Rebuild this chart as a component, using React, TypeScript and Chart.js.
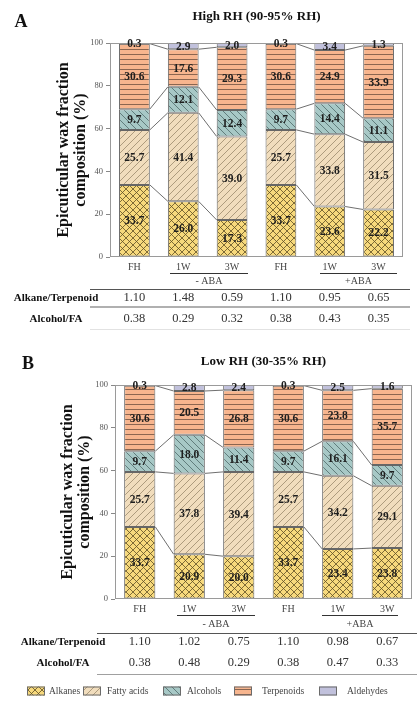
import React, { useEffect, useRef } from 'react';
import { Chart, registerables } from 'chart.js';
Chart.register(...registerables);

const categories = ['FH', '1W', '3W', 'FH', '1W', '3W'];
const components = ['Alkanes', 'Fatty acids', 'Alcohols', 'Terpenoids', 'Aldehydes'];

const highAlkanes = [33.7, 26.0, 17.3, 33.7, 23.6, 22.2];
const highFatty = [25.7, 41.4, 39.0, 25.7, 33.8, 31.5];
const highAlcohols = [9.7, 12.1, 12.4, 9.7, 14.4, 11.1];
const highTerpenoids = [30.6, 17.6, 29.3, 30.6, 24.9, 33.9];
const highAldehydes = [0.3, 2.9, 2.0, 0.3, 3.4, 1.3];

const lowAlkanes = [33.7, 20.9, 20.0, 33.7, 23.4, 23.8];
const lowFatty = [25.7, 37.8, 39.4, 25.7, 34.2, 29.1];
const lowAlcohols = [9.7, 18.0, 11.4, 9.7, 16.1, 9.7];
const lowTerpenoids = [30.6, 20.5, 26.8, 30.6, 23.8, 35.7];
const lowAldehydes = [0.3, 2.8, 2.4, 0.3, 2.5, 1.6];

const highAlkTerp = ['1.10', '1.48', '0.59', '1.10', '0.95', '0.65'];
const highAlcFA = ['0.38', '0.29', '0.32', '0.38', '0.43', '0.35'];
const lowAlkTerp = ['1.10', '1.02', '0.75', '1.10', '0.98', '0.67'];
const lowAlcFA = ['0.38', '0.48', '0.29', '0.38', '0.47', '0.33'];

const groupLabels = ['- ABA', '+ABA'];
const rowLabels = ['Alkane/Terpenoid', 'Alcohol/FA'];
const yTitle = ['Epicuticular wax fraction', 'composition (%)'];
const yTicks = [0, 20, 40, 60, 80, 100];

const SERIF = '"Liberation Serif", "DejaVu Serif", serif';

type PatKind = 'cross' | 'fwd' | 'back' | 'horiz' | 'none';
const fills = ['#f7d97c', '#f1ddbd', '#a7c8c6', '#f7b58e', '#c1c1dc'];
const patKinds: PatKind[] = ['cross', 'fwd', 'back', 'horiz', 'none'];
const patLine = ['#5e4f25', '#9c8a6c', '#4f6a6a', '#6e5040', '#000'];

function makePattern(kind: PatKind, bg: string, line: string): CanvasPattern | string {
  if (kind === 'none') return bg;
  const s = kind === 'horiz' ? 5.4 : kind === 'cross' ? 7 : 6.5;
  const size = Math.round(s * 10) / 10;
  const c = document.createElement('canvas');
  const px = kind === 'horiz' ? 10 : Math.round(size);
  c.width = px;
  c.height = kind === 'horiz' ? Math.round(size) : px;
  const g = c.getContext('2d')!;
  g.fillStyle = bg;
  g.fillRect(0, 0, c.width, c.height);
  g.strokeStyle = line;
  g.lineWidth = 0.8;
  g.beginPath();
  const w = c.width;
  const h = c.height;
  if (kind === 'horiz') {
    g.moveTo(0, h - 0.5);
    g.lineTo(w, h - 0.5);
  }
  if (kind === 'fwd' || kind === 'cross') {
    for (let k = -1; k <= 1; k++) {
      g.moveTo(k * w, h);
      g.lineTo(k * w + w, 0);
    }
  }
  if (kind === 'back' || kind === 'cross') {
    for (let k = -1; k <= 1; k++) {
      g.moveTo(k * w, 0);
      g.lineTo(k * w + w, h);
    }
  }
  g.stroke();
  const ctx = document.createElement('canvas').getContext('2d')!;
  return ctx.createPattern(c, 'repeat')!;
}

interface PanelSpec {
  letter: string;
  title: string;
  series: number[][];
  rowA: string[];
  rowB: string[];
  height: number;
  area: { left: number; top: number; right: number; bottom: number };
  letterPos: [number, number];
  titleY: number;
  yTitleX: [number, number];
  underlineY: number;
  groupY: number;
  headerLineY: number;
  row1Y: number;
  row2Y: number;
  midLineY: number | null;
  bottomLineY: number;
  bottomLineColor: string;
  tableX: [number, number];
  rowLabelX: number;
  underlines: [number, number][];
  legendY: number | null;
}

const panelA: PanelSpec = {
  letter: 'A',
  title: 'High RH (90-95% RH)',
  series: [highAlkanes, highFatty, highAlcohols, highTerpenoids, highAldehydes],
  rowA: highAlkTerp,
  rowB: highAlcFA,
  height: 340,
  area: { left: 110, top: 43, right: 403, bottom: 257 },
  letterPos: [21, 22],
  titleY: 17,
  yTitleX: [64, 81],
  underlineY: 273,
  groupY: 281,
  headerLineY: 289,
  row1Y: 298,
  row2Y: 319,
  midLineY: 307,
  bottomLineY: 329,
  bottomLineColor: '#e2e2e2',
  tableX: [90, 410],
  rowLabelX: 56,
  underlines: [[170, 248], [320, 397]],
  legendY: null,
};

const panelB: PanelSpec = {
  letter: 'B',
  title: 'Low RH (30-35% RH)',
  series: [lowAlkanes, lowFatty, lowAlcohols, lowTerpenoids, lowAldehydes],
  rowA: lowAlkTerp,
  rowB: lowAlcFA,
  height: 364,
  area: { left: 115, top: 45, right: 412, bottom: 259 },
  letterPos: [28, 24],
  titleY: 22,
  yTitleX: [68, 85],
  underlineY: 275,
  groupY: 284,
  headerLineY: 293,
  row1Y: 302,
  row2Y: 323,
  midLineY: null,
  bottomLineY: 334,
  bottomLineColor: '#a0a0a0',
  tableX: [97, 417],
  rowLabelX: 63,
  underlines: [[177, 255], [322, 398]],
  legendY: 351,
};

const legendBoxX = [27, 83, 163, 234, 319];
const legendTextX = [49, 107, 187, 262, 347];

function Panel({ spec, top }: { spec: PanelSpec; top: number }) {
  const ref = useRef<HTMLCanvasElement>(null);
  useEffect(() => {
    const canvas = ref.current!;
    const pats = fills.map((f, i) => makePattern(patKinds[i], f, patLine[i]));
    const a = spec.area;
    const xAxisH = 20;

    const overlay = {
      id: 'overlay',
      beforeDraw(chart: any) {
        const ctx = chart.ctx;
        ctx.save();
        ctx.fillStyle = '#ffffff';
        ctx.fillRect(0, 0, chart.width, chart.height);
        ctx.restore();
      },
      afterDatasetsDraw(chart: any) {
        const ctx = chart.ctx;
        const ca = chart.chartArea;
        ctx.save();
        ctx.strokeStyle = '#4a4a4a';
        ctx.lineWidth = 0.8;
        const pairs = [[0, 1], [1, 2], [3, 4], [4, 5]];
        for (let d = 0; d < 4; d++) {
          const meta = chart.getDatasetMeta(d);
          for (const [i, j] of pairs) {
            const e1 = meta.data[i] as any;
            const e2 = meta.data[j] as any;
            ctx.beginPath();
            ctx.moveTo(e1.x + e1.width / 2, e1.y);
            ctx.lineTo(e2.x - e2.width / 2, e2.y);
            ctx.stroke();
          }
        }
        ctx.strokeStyle = '#9a9a9a';
        ctx.lineWidth = 1;
        ctx.strokeRect(ca.left + 0.5, ca.top + 0.5, ca.right - ca.left - 1, ca.bottom - ca.top - 1);
        ctx.fillStyle = '#1e1e1e';
        ctx.font = `bold 11.5px ${SERIF}`;
        ctx.textAlign = 'center';
        ctx.textBaseline = 'middle';
        chart.data.datasets.forEach((ds: any, d: number) => {
          const meta = chart.getDatasetMeta(d);
          meta.data.forEach((el: any, i: number) => {
            const v = ds.data[i] as number;
            ctx.fillText(v.toFixed(1), el.x, (el.y + el.base) / 2 + 0.5);
          });
        });
        ctx.restore();
      },
      afterDraw(chart: any) {
        const ctx = chart.ctx;
        const ca = chart.chartArea;
        const xs = chart.scales.x;
        ctx.save();
        ctx.textAlign = 'center';
        ctx.textBaseline = 'middle';
        ctx.fillStyle = '#111';
        ctx.font = `bold 18px ${SERIF}`;
        ctx.fillText(spec.letter, spec.letterPos[0], spec.letterPos[1]);
        ctx.font = `bold 13px ${SERIF}`;
        ctx.fillText(spec.title, (ca.left + ca.right) / 2, spec.titleY);
        ctx.font = `bold 16px ${SERIF}`;
        const cy = (ca.top + ca.bottom) / 2;
        yTitle.forEach((t, k) => {
          ctx.save();
          ctx.translate(spec.yTitleX[k], cy);
          ctx.rotate(-Math.PI / 2);
          ctx.fillText(t, 0, 0);
          ctx.restore();
        });
        ctx.strokeStyle = '#333';
        ctx.lineWidth = 1;
        spec.underlines.forEach(([x1, x2], k) => {
          ctx.beginPath();
          ctx.moveTo(x1, spec.underlineY + 0.5);
          ctx.lineTo(x2, spec.underlineY + 0.5);
          ctx.stroke();
          ctx.fillStyle = '#444';
          ctx.font = `10px ${SERIF}`;
          ctx.fillText(groupLabels[k], (x1 + x2) / 2, spec.groupY);
        });
        ctx.strokeStyle = '#555';
        ctx.lineWidth = 1;
        ctx.beginPath();
        ctx.moveTo(spec.tableX[0], spec.headerLineY + 0.5);
        ctx.lineTo(spec.tableX[1], spec.headerLineY + 0.5);
        ctx.stroke();
        if (spec.midLineY !== null) {
          ctx.strokeStyle = '#b0b0b0';
          ctx.lineWidth = 2;
          ctx.beginPath();
          ctx.moveTo(spec.tableX[0], spec.midLineY);
          ctx.lineTo(spec.tableX[1], spec.midLineY);
          ctx.stroke();
        }
        ctx.strokeStyle = spec.bottomLineColor;
        ctx.lineWidth = 1.2;
        ctx.beginPath();
        ctx.moveTo(spec.tableX[0], spec.bottomLineY + 0.5);
        ctx.lineTo(spec.tableX[1], spec.bottomLineY + 0.5);
        ctx.stroke();
        ctx.fillStyle = '#111';
        ctx.font = `bold 11px ${SERIF}`;
        ctx.fillText(rowLabels[0], spec.rowLabelX, spec.row1Y);
        ctx.fillText(rowLabels[1], spec.rowLabelX, spec.row2Y);
        ctx.fillStyle = '#333';
        ctx.font = `12.5px ${SERIF}`;
        for (let i = 0; i < categories.length; i++) {
          const x = xs.getPixelForValue(i);
          ctx.fillText(spec.rowA[i], x, spec.row1Y);
          ctx.fillText(spec.rowB[i], x, spec.row2Y);
        }
        if (spec.legendY !== null) {
          components.forEach((name, k) => {
            const bx = legendBoxX[k];
            const by = spec.legendY! - 4.5;
            ctx.fillStyle = pats[k] as any;
            ctx.fillRect(bx, by, 18, 9);
            ctx.strokeStyle = '#6b6b6b';
            ctx.lineWidth = 1;
            ctx.strokeRect(bx + 0.5, by + 0.5, 17, 8);
            ctx.fillStyle = '#444';
            ctx.font = `9.5px ${SERIF}`;
            ctx.textAlign = 'left';
            ctx.fillText(name, legendTextX[k], spec.legendY!);
          });
        }
        ctx.restore();
      },
    };

    const chart = new Chart(canvas, {
      type: 'bar',
      data: {
        labels: categories,
        datasets: spec.series.map((vals, k) => ({
          label: components[k],
          data: vals,
          backgroundColor: pats[k] as any,
          borderColor: '#666666',
          borderWidth: 1,
          borderSkipped: false,
          barPercentage: 0.63,
          categoryPercentage: 1,
        })),
      },
      options: {
        responsive: false,
        animation: false,
        events: [],
        layout: {
          padding: {
            left: 0,
            top: a.top,
            right: 419 - a.right,
            bottom: spec.height - a.bottom - xAxisH,
          },
        },
        plugins: {
          legend: { display: false },
          tooltip: { enabled: false },
          title: { display: false },
        },
        scales: {
          x: {
            stacked: true,
            grid: { display: false, drawTicks: false },
            border: { display: false },
            ticks: {
              padding: 4,
              color: '#444',
              font: { family: SERIF, size: 10 },
            },
            afterFit: (s: any) => {
              s.height = xAxisH;
            },
          },
          y: {
            stacked: true,
            min: 0,
            max: 100,
            afterBuildTicks: (s: any) => {
              s.ticks = yTicks.map((v) => ({ value: v }));
            },
            grid: {
              drawOnChartArea: false,
              drawTicks: true,
              tickLength: 4,
              color: '#888',
            },
            border: { display: false },
            ticks: {
              padding: 3,
              color: '#555',
              font: { family: SERIF, size: 8.5 },
            },
            afterFit: (s: any) => {
              s.width = a.left;
            },
          },
        },
      },
      plugins: [overlay],
    });
    return () => chart.destroy();
  }, [spec]);
  return (
    <canvas
      ref={ref}
      width={419}
      height={spec.height}
      style={{ position: 'absolute', left: 0, top, width: 419, height: spec.height, display: 'block' }}
    />
  );
}

export default function App() {
  return (
    <div style={{ position: 'absolute', left: 0, top: 0, width: 419, height: 704, background: '#fff', overflow: 'hidden' }}>
      <Panel spec={panelA} top={0} />
      <Panel spec={panelB} top={340} />
    </div>
  );
}
